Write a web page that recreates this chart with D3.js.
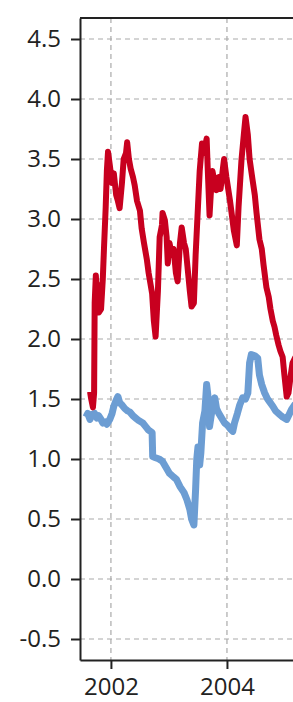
<!DOCTYPE html>
<html>
<head>
<meta charset="utf-8">
<script src="https://cdn.jsdelivr.net/npm/d3@7"></script>
<style>
  body { margin: 0; background: #fff; }
  .tick text { font-family: "Open Sans", sans-serif; font-size: 24px; fill: #222; }
</style>
</head>
<body>
<svg id="chart"></svg>
<script>
// Red series (decimal year, value)
var redYears = [2001.64, 2001.66, 2001.69, 2001.71, 2001.72, 2001.74, 2001.76, 2001.78, 2001.79, 2001.83,
  2001.86, 2001.88, 2001.91, 2001.93, 2001.95, 2001.98, 2002.02, 2002.05, 2002.09, 2002.12,
  2002.15, 2002.19, 2002.22, 2002.26, 2002.28, 2002.31, 2002.34, 2002.38, 2002.41, 2002.45,
  2002.50, 2002.53, 2002.57, 2002.62, 2002.65, 2002.71, 2002.74, 2002.77, 2002.81, 2002.84,
  2002.88, 2002.89, 2002.93, 2002.96, 2002.98, 2003.01, 2003.05, 2003.08, 2003.12, 2003.15,
  2003.19, 2003.22, 2003.26, 2003.29, 2003.32, 2003.36, 2003.39, 2003.43, 2003.46, 2003.50,
  2003.53, 2003.57, 2003.60, 2003.65, 2003.67, 2003.70, 2003.72, 2003.75, 2003.79, 2003.82,
  2003.86, 2003.89, 2003.93, 2003.95, 2003.99, 2004.05, 2004.08, 2004.12, 2004.17, 2004.20,
  2004.25, 2004.29, 2004.32, 2004.36, 2004.39, 2004.44, 2004.48, 2004.51, 2004.56, 2004.60,
  2004.63, 2004.68, 2004.72, 2004.75, 2004.79, 2004.82, 2004.85, 2004.89, 2004.92, 2004.96,
  2004.99, 2005.03, 2005.06, 2005.10, 2005.13, 2005.18];
var redValues = [1.56, 1.50, 1.43, 1.55, 2.30, 2.53, 2.35, 2.45, 2.22, 2.25,
  2.50, 2.75, 3.10, 3.40, 3.56, 3.45, 3.30, 3.38, 3.20, 3.15,
  3.09, 3.30, 3.50, 3.55, 3.64, 3.50, 3.42, 3.35, 3.28, 3.15,
  3.07, 2.92, 2.80, 2.66, 2.55, 2.38, 2.15, 2.02, 2.40, 2.85,
  2.95, 3.05, 2.99, 2.85, 2.63, 2.80, 2.70, 2.75, 2.55, 2.48,
  2.80, 2.93, 2.80, 2.75, 2.60, 2.40, 2.27, 2.30, 2.70, 3.10,
  3.40, 3.63, 3.55, 3.67, 3.40, 3.03, 3.20, 3.40, 3.30, 3.24,
  3.35, 3.25, 3.42, 3.50, 3.35, 3.16, 3.05, 2.90, 2.78, 3.10,
  3.49, 3.70, 3.85, 3.70, 3.50, 3.33, 3.20, 3.05, 2.83, 2.75,
  2.62, 2.43, 2.35, 2.25, 2.15, 2.10, 2.03, 1.95, 1.90, 1.85,
  1.70, 1.52, 1.55, 1.70, 1.80, 1.85];

// Blue series (decimal year, value)
var blueYears = [2001.57, 2001.60, 2001.64, 2001.67, 2001.72, 2001.76, 2001.79, 2001.83, 2001.86, 2001.90,
  2001.93, 2001.98, 2002.02, 2002.05, 2002.09, 2002.12, 2002.15, 2002.19, 2002.24, 2002.29,
  2002.33, 2002.38, 2002.43, 2002.48, 2002.55, 2002.60, 2002.65, 2002.71, 2002.72, 2002.77,
  2002.83, 2002.89, 2002.95, 2003.01, 2003.08, 2003.13, 2003.19, 2003.26, 2003.31, 2003.36,
  2003.39, 2003.43, 2003.46, 2003.48, 2003.50, 2003.53, 2003.55, 2003.58, 2003.62, 2003.65,
  2003.69, 2003.70, 2003.74, 2003.79, 2003.82, 2003.86, 2003.91, 2003.96, 2004.01, 2004.06,
  2004.10, 2004.13, 2004.18, 2004.22, 2004.27, 2004.32, 2004.36, 2004.39, 2004.42, 2004.48,
  2004.53, 2004.56, 2004.60, 2004.65, 2004.70, 2004.73, 2004.79, 2004.84, 2004.91, 2004.96,
  2005.03, 2005.08, 2005.11, 2005.18];
var blueValues = [1.35, 1.38, 1.33, 1.37, 1.38, 1.34, 1.36, 1.33, 1.30, 1.31,
  1.29, 1.33, 1.38, 1.44, 1.49, 1.52, 1.47, 1.45, 1.42, 1.40,
  1.39, 1.36, 1.34, 1.32, 1.30, 1.27, 1.24, 1.22, 1.02, 1.01,
  1.00, 0.98, 0.93, 0.88, 0.85, 0.83, 0.77, 0.72, 0.66, 0.58,
  0.50, 0.45, 0.75, 1.00, 1.10, 0.95, 1.05, 1.30, 1.40, 1.62,
  1.45, 1.27, 1.40, 1.51, 1.42, 1.38, 1.34, 1.30, 1.28, 1.25,
  1.23, 1.30, 1.38, 1.45, 1.51, 1.50, 1.55, 1.80, 1.87, 1.86,
  1.84, 1.70, 1.62, 1.55, 1.50, 1.48, 1.44, 1.40, 1.37, 1.35,
  1.33, 1.38, 1.41, 1.46];

var yTicks = [-0.5, 0, 0.5, 1, 1.5, 2, 2.5, 3, 3.5, 4, 4.5];
var xTicks = [2002, 2004];

var width = 293, height = 702;
var margin = { top: 18, left: 80 };
var plotRight = 372, plotBottom = 660;

var svg = d3.select("#chart")
  .attr("width", width)
  .attr("height", height);

var xScale = d3.scaleLinear()
  .domain([2001.467, 2006.5])
  .range([margin.left, plotRight]);

var yScale = d3.scaleLinear()
  .domain([-0.675, 4.675])
  .range([plotBottom, margin.top]);

// Grid
svg.append("g")
  .selectAll("line")
  .data(yTicks)
  .enter().append("line")
  .attr("x1", margin.left).attr("x2", plotRight)
  .attr("y1", function(d) { return yScale(d); })
  .attr("y2", function(d) { return yScale(d); })
  .attr("stroke", "#aaa")
  .attr("stroke-width", 1.2)
  .attr("stroke-dasharray", "5,4");

svg.append("g")
  .selectAll("line")
  .data(xTicks)
  .enter().append("line")
  .attr("x1", function(d) { return xScale(d); })
  .attr("x2", function(d) { return xScale(d); })
  .attr("y1", margin.top).attr("y2", plotBottom)
  .attr("stroke", "#aaa")
  .attr("stroke-width", 1.2)
  .attr("stroke-dasharray", "5,4");

// Lines
svg.append("clipPath").attr("id", "clip")
  .append("rect")
  .attr("x", margin.left).attr("y", margin.top)
  .attr("width", plotRight - margin.left).attr("height", plotBottom - margin.top);

var line = d3.line()
  .x(function(d) { return xScale(d[0]); })
  .y(function(d) { return yScale(d[1]); });

var blueData = blueYears.map(function(y, i) { return [y, blueValues[i]]; });
var redData = redYears.map(function(y, i) { return [y, redValues[i]]; });

svg.append("path")
  .datum(blueData)
  .attr("clip-path", "url(#clip)")
  .attr("fill", "none")
  .attr("stroke", "#6c9dd3")
  .attr("stroke-width", 7)
  .attr("stroke-linejoin", "round")
  .attr("d", line);

svg.append("path")
  .datum(redData)
  .attr("clip-path", "url(#clip)")
  .attr("fill", "none")
  .attr("stroke", "#c8001f")
  .attr("stroke-width", 6)
  .attr("stroke-linejoin", "round")
  .attr("d", line);

// Axes
var yAxis = d3.axisLeft(yScale)
  .tickValues(yTicks)
  .tickFormat(function(d) { return d3.format(".1f")(d).replace("\u2212", "-"); })
  .tickSize(9)
  .tickSizeOuter(0)
  .tickPadding(10);

var xAxis = d3.axisBottom(xScale)
  .tickValues(xTicks)
  .tickFormat(d3.format("d"))
  .tickSize(9)
  .tickSizeOuter(0)
  .tickPadding(9);

svg.append("g")
  .attr("transform", "translate(" + margin.left + ",0)")
  .call(yAxis);

svg.append("g")
  .attr("transform", "translate(0," + plotBottom + ")")
  .call(xAxis);

svg.selectAll(".domain").attr("stroke", "#222").attr("stroke-width", 2);
svg.selectAll(".tick line").attr("stroke", "#222").attr("stroke-width", 2);

// top border
svg.append("line")
  .attr("x1", margin.left).attr("x2", plotRight)
  .attr("y1", margin.top).attr("y2", margin.top)
  .attr("stroke", "#222")
  .attr("stroke-width", 2);
</script>
</body>
</html>
